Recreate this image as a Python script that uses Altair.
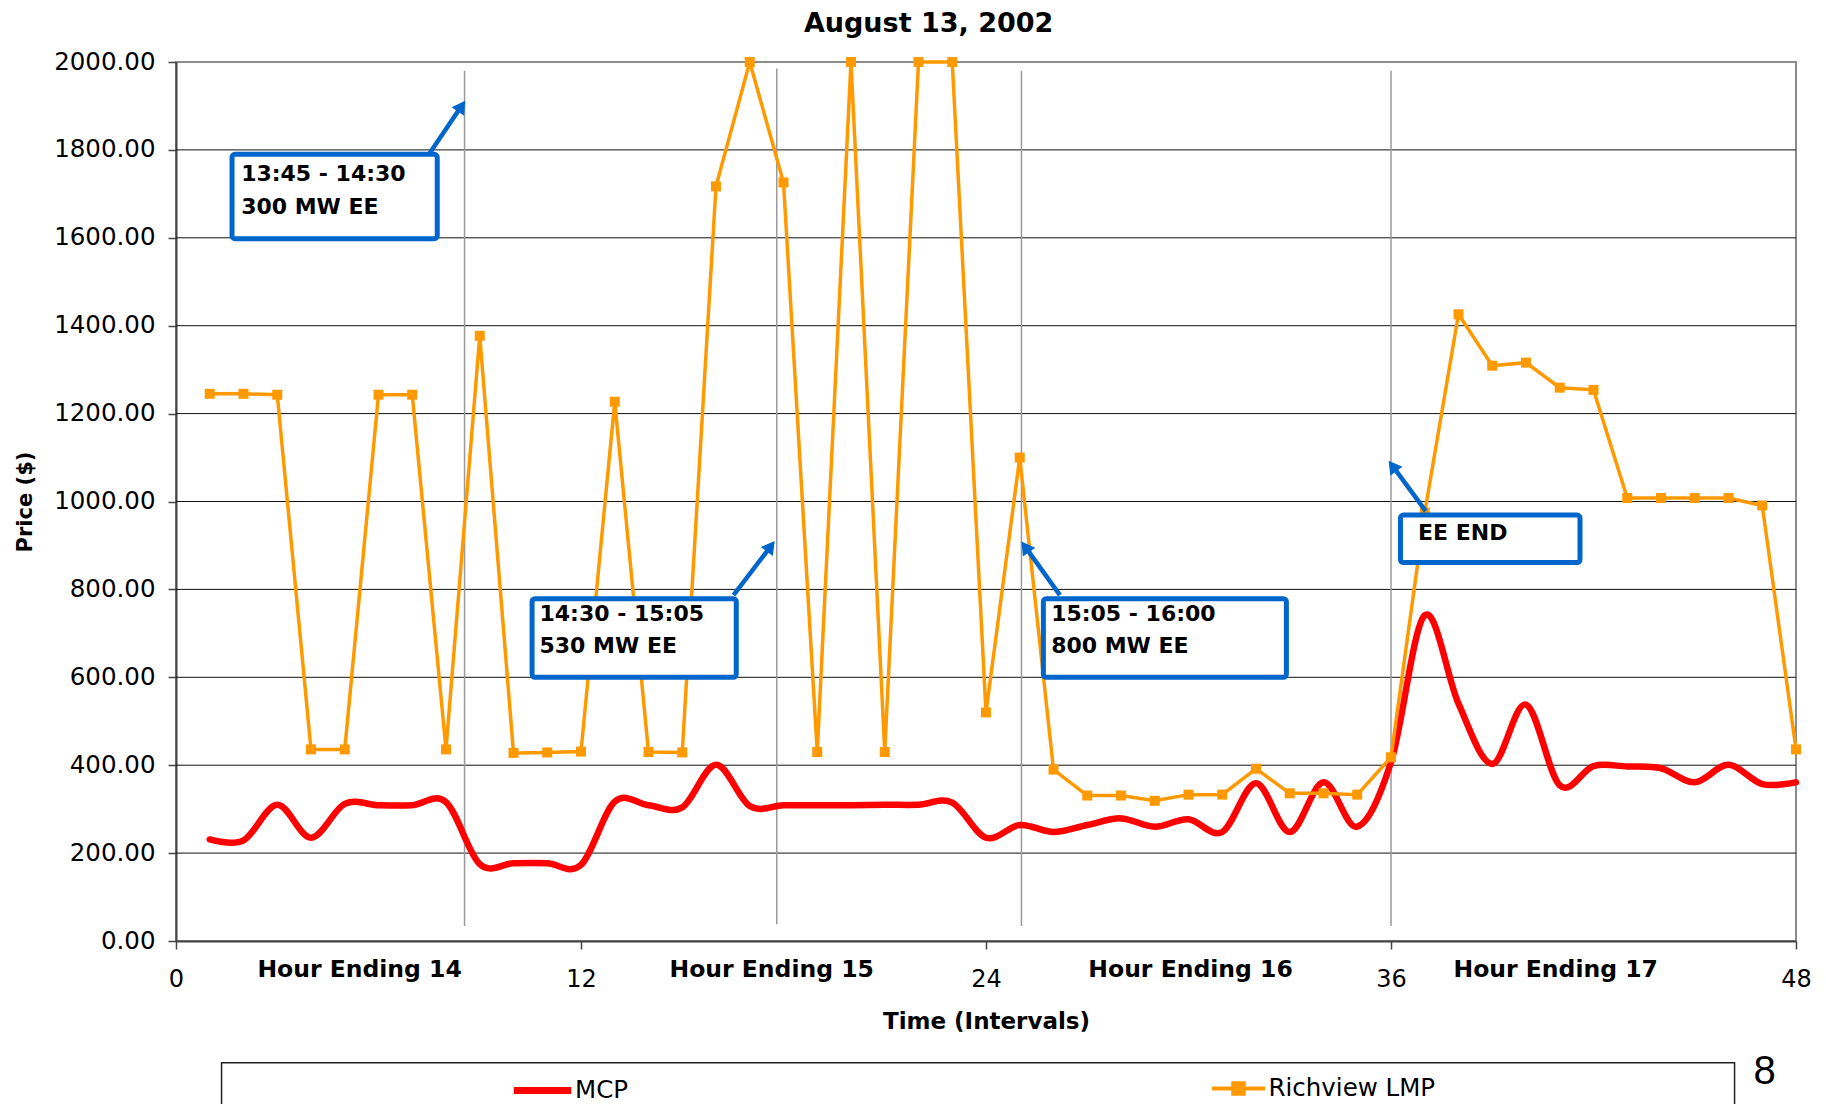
import math
import altair as alt
import pandas as pd

# ---------------- data ----------------
intervals = list(range(1, 49))
mcp = [231, 229, 310, 235, 312, 309, 309, 316, 175, 177, 177, 173,
       317, 309, 304, 401, 307, 309, 309, 309, 310, 310, 315, 235,
       264, 248, 264, 279, 260, 277, 248, 359, 248, 361, 260, 407,
       741, 540, 403, 538, 354, 398, 397, 393, 361, 401, 357, 361]
lmp = [1245, 1245, 1243, 436, 436, 1243, 1243, 436, 1377, 428, 429, 431,
       1227, 430, 429, 1717, 2000, 1726, 430, 2000, 430, 2000, 2000, 520,
       1100, 390, 331, 331, 319, 333, 333, 392, 336, 336, 333, 418,
       975, 1426, 1309, 1316, 1259, 1254, 1008, 1008, 1008, 1008, 991, 436]

x_ticks = [0, 12, 24, 36, 48]
y_ticks = list(range(0, 2001, 200))
grid_values = list(range(200, 1801, 200))

title_text = {"x": 22.3, "y": 2068, "text": "August 13, 2002"}

vline_x = [8.55, 17.8, 25.05, 36.0]
vline_top = [1980, 1985, 1980, 1980]
vline_bottom = [34, 38, 34, 34]

hour_labels = ["Hour Ending 14", "Hour Ending 15", "Hour Ending 16", "Hour Ending 17"]
hour_x = [5.44, 17.65, 30.06, 40.88]
hour_y = -66

box_x1 = [1.66, 10.55, 25.7, 36.28]
box_x2 = [7.74, 16.6, 32.9, 41.6]
box_y1 = [1598, 600, 600, 861]
box_y2 = [1790, 779, 779, 969]
box_line1 = ["13:45 - 14:30", "14:30 - 15:05", "15:05 - 16:00", "EE END"]
box_line2 = ["300 MW EE", "530 MW EE", "800 MW EE", ""]
text_x = [1.93, 10.77, 25.93, 36.8]
text_y1 = [1745, 744, 744, 928]
text_y2 = [1671, 671, 671, 928]

arrow_tail_x = [7.52, 16.52, 26.19, 37.03]
arrow_tail_y = [1793, 787, 787, 978]
arrow_tip_x = [8.57, 17.74, 25.05, 35.93]
arrow_tip_y = [1912, 910, 909, 1093]

legend_box = {"x": 1.35, "x2": 46.18, "y": -277, "y2": -600}
page_no = {"x": 47.07, "y": -298, "text": "8"}

# ---------------- geometry helpers ----------------
W, H = 1620, 879
X_MAX, Y_MAX = 48, 2000
PX_X = W / X_MAX
PX_Y = H / Y_MAX
HEAD_SIZE = 230
HEAD_H = math.sqrt(3) / 2 * math.sqrt(HEAD_SIZE) / 2

RED = "#FF0000"
ORANGE = "#FF9900"
BLUE = "#0066CC"
FONT = "DejaVu Sans"

mcp_df = pd.DataFrame({"x": intervals, "y": mcp, "series": "MCP"})
lmp_df = pd.DataFrame({"x": intervals, "y": lmp, "series": "Richview LMP"})
grid_df = pd.DataFrame({"y": grid_values, "x": 0, "x2": X_MAX})
vline_df = pd.DataFrame({"x": vline_x, "y": vline_bottom, "y2": vline_top})
hour_df = pd.DataFrame({"x": hour_x, "y": hour_y, "text": hour_labels})
box_df = pd.DataFrame({"x": box_x1, "x2": box_x2, "y": box_y1, "y2": box_y2})
text_df = pd.DataFrame({
    "x": text_x + text_x,
    "y": text_y1 + text_y2,
    "text": box_line1 + box_line2,
})

rows_line, rows_head = [], []
for tx, ty, hx, hy in zip(arrow_tail_x, arrow_tail_y, arrow_tip_x, arrow_tip_y):
    dxp = (hx - tx) * PX_X
    dyp = -(hy - ty) * PX_Y
    L = math.hypot(dxp, dyp)
    ux, uy = dxp / L, dyp / L
    cx = hx - ux * HEAD_H / PX_X
    cy = hy + uy * HEAD_H / PX_Y
    ang = math.degrees(math.atan2(ux, -uy)) % 360
    rows_line.append({"x": tx, "y": ty, "x2": cx, "y2": cy})
    rows_head.append({"x": cx, "y": cy, "angle": ang})
arrow_df = pd.DataFrame(rows_line)
head_df = pd.DataFrame(rows_head)

xscale = alt.Scale(domain=[0, X_MAX], nice=False, zero=False)
yscale = alt.Scale(domain=[0, Y_MAX], nice=False, zero=False)

x_axis = alt.Axis(
    values=x_ticks, format="d", grid=False, title="Time (Intervals)",
    titleFont=FONT, titleFontSize=23, titleFontWeight="bold", titleColor="black",
    titleBaseline="middle", titleY=80,
    labelFont=FONT, labelFontSize=24, labelColor="black", labelPadding=18,
    labelFlush=False, labelOverlap=False,
    tickSize=8, tickColor="#444", tickWidth=1.5,
    domainColor="#444", domainWidth=2,
)
y_axis = alt.Axis(
    values=y_ticks, format=".2f", grid=False, title="Price ($)",
    titleFont=FONT, titleFontSize=21, titleFontWeight="bold", titleColor="black",
    titleAngle=270, titleBaseline="bottom", titleAlign="center",
    titleX=-141, titleY=H / 2,
    labelFont=FONT, labelFontSize=24.5, labelColor="black", labelPadding=13,
    labelFlush=False, labelOverlap=False,
    tickSize=8, tickColor="#444", tickWidth=1.5,
    domainColor="#444", domainWidth=2,
)


def X(field="x"):
    return alt.X(f"{field}:Q", scale=xscale, axis=x_axis)


def Y(field="y"):
    return alt.Y(f"{field}:Q", scale=yscale, axis=y_axis)


grid = alt.Chart(grid_df).mark_rule(color="#111", strokeWidth=1).encode(
    x=X(), x2="x2:Q", y=Y())

vlines = alt.Chart(vline_df).mark_rule(color="#9a9a9a", strokeWidth=1.5).encode(
    x=X(), y=Y(), y2="y2:Q")

mcp_line = alt.Chart(mcp_df).mark_line(
    interpolate="cardinal", strokeWidth=6.5, strokeCap="round", strokeJoin="round"
).encode(
    x=X(), y=Y(),
    color=alt.Color("series:N",
                    scale=alt.Scale(domain=["MCP"], range=[RED]),
                    legend=alt.Legend(
                        title=None, orient="none", legendX=334, legendY=996,
                        symbolType="stroke", symbolSize=3300, symbolStrokeWidth=7,
                        symbolStrokeColor=RED,
                        labelFont=FONT, labelFontSize=24.5, labelColor="black",
                        labelOffset=0, labelLimit=400, padding=0)),
)

lmp_line = alt.Chart(lmp_df).mark_line(strokeWidth=3.5).encode(
    x=X(), y=Y(),
    color=alt.Color("series:N",
                    scale=alt.Scale(domain=["Richview LMP"], range=[ORANGE]),
                    legend=alt.Legend(
                        title=None, orient="none", legendX=1034, legendY=998,
                        symbolType="M-1,0L1,0M-0.2,-0.2L0.2,-0.2L0.2,0.2L-0.2,0.2Z",
                        symbolSize=2809, symbolStrokeWidth=4,
                        symbolFillColor=ORANGE, symbolStrokeColor=ORANGE,
                        labelFont=FONT, labelFontSize=24.5, labelColor="black",
                        labelOffset=1.5, labelLimit=400, padding=0)),
)

lmp_pts = alt.Chart(lmp_df).mark_point(
    shape="square", filled=True, size=100, color=ORANGE, opacity=1
).encode(x=X(), y=Y())

arrows = alt.Chart(arrow_df).mark_rule(color=BLUE, strokeWidth=4.5).encode(
    x=X(), y=Y(), x2="x2:Q", y2="y2:Q")

heads = alt.Chart(head_df).mark_point(
    shape="triangle-up", filled=True, size=HEAD_SIZE, color=BLUE, opacity=1
).encode(x=X(), y=Y(), angle=alt.Angle("angle:Q", scale=None))

boxes = alt.Chart(box_df).mark_rect(
    fill="white", stroke=BLUE, strokeWidth=5, cornerRadius=3
).encode(x=X(), x2="x2:Q", y=Y(), y2="y2:Q")

box_text = alt.Chart(text_df).mark_text(
    align="left", baseline="middle", font=FONT, fontSize=22, fontWeight="bold",
    color="black"
).encode(x=X(), y=Y(), text="text:N")

hour_text = alt.Chart(hour_df).mark_text(
    align="center", baseline="middle", font=FONT, fontSize=23.5, fontWeight="bold",
    color="black"
).encode(x=X(), y=Y(), text="text:N")

title_mark = alt.Chart(pd.DataFrame([title_text])).mark_text(
    align="center", baseline="alphabetic", font=FONT, fontSize=27, fontWeight="bold",
    color="black"
).encode(x=X(), y=Y(), text="text:N")

legend_rect = alt.Chart(pd.DataFrame([legend_box])).mark_rect(
    fill="white", fillOpacity=0, stroke="#222", strokeWidth=1.5
).encode(x=X(), x2="x2:Q", y=Y(), y2="y2:Q")

page_text = alt.Chart(pd.DataFrame([page_no])).mark_text(
    align="center", baseline="middle", font="Liberation Sans Narrow, Liberation Sans",
    fontSize=40, color="black"
).encode(x=X(), y=Y(), text="text:N")

chart = alt.layer(
    grid, vlines, legend_rect, mcp_line, lmp_line, lmp_pts, arrows, heads,
    boxes, box_text, hour_text, title_mark, page_text
).resolve_scale(color="independent").resolve_legend(color="independent").properties(
    width=W, height=H,
    autosize=alt.AutoSizeParams(type="none"),
    padding={"left": 168, "top": 54, "right": 20, "bottom": 163},
).configure_view(stroke="#8c8c8c", strokeWidth=2)

chart.save("out.html", embed_options={"renderer": "svg", "actions": False})
